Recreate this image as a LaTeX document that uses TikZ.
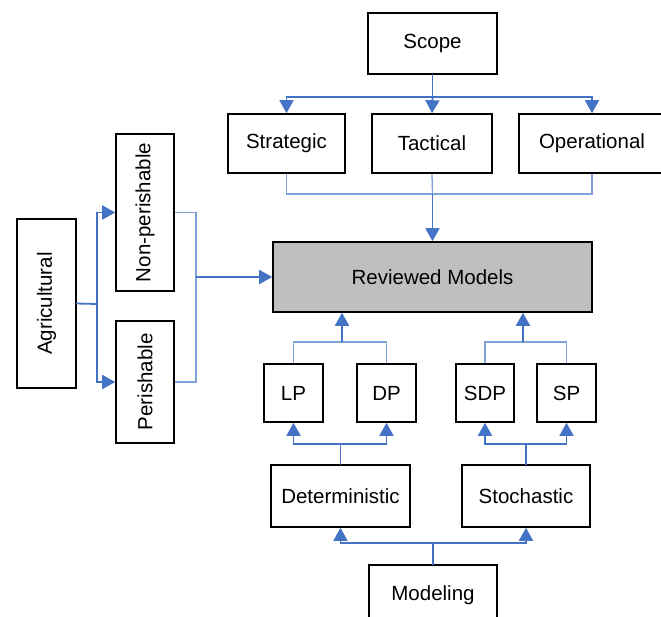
\documentclass[tikz,border=0pt]{standalone}
\usepackage{fontspec}
\setmainfont{Liberation Sans}
\usepackage{graphicx}
\usetikzlibrary{arrows.meta}
\definecolor{cblue}{HTML}{4472C4}
\definecolor{lblue}{HTML}{7FA2DA}
\definecolor{cgray}{HTML}{BFBFBF}
\begin{document}
\begin{tikzpicture}[x=1pt,y=-1pt,
  box/.style={draw=black, line width=1.6pt, fill=white, inner sep=0pt, font=\fontsize{20.5}{24}\selectfont},
  conn/.style={draw=cblue, line width=1.8pt, line cap=rect},
  arr/.style={conn, line cap=butt, -{Triangle[length=13pt,width=14pt]}},
  merge/.style={draw=lblue, line width=1.3pt}]
\useasboundingbox (0,0) rectangle (661,616);
% nodes
\node[box, minimum width=129, minimum height=61] (scope) at (432.5,43.5) {Scope};
\node[box, minimum width=117, minimum height=59] (strategic) at (286.5,143.5) {Strategic};
\node[box, minimum width=120, minimum height=59] (tactical) at (432,143.5) {Tactical};
\node[box, minimum width=146, minimum height=59] (operational) at (592,143.5) {Operational};
\node[box, fill=cgray, minimum width=319, minimum height=70] (reviewed) at (432.5,277) {Reviewed Models};
\node[box, minimum width=59, minimum height=169] (agri) at (46.5,303.5) {\rotatebox{90}{Agricultural}};
\node[box, minimum width=58, minimum height=157] (nonper) at (145,212.5) {\rotatebox{90}{Non-perishable}};
\node[box, minimum width=58, minimum height=122] (per) at (145,382) {\rotatebox{90}{Perishable}};
\node[box, minimum width=59, minimum height=58] (lp) at (293.5,393) {LP};
\node[box, minimum width=59, minimum height=58] (dp) at (386.5,393) {DP};
\node[box, minimum width=58, minimum height=58] (sdp) at (485,393) {SDP};
\node[box, minimum width=59, minimum height=58] (sp) at (566.5,393) {SP};
\node[box, minimum width=139, minimum height=62] (det) at (340.5,496) {Deterministic};
\node[box, minimum width=128, minimum height=62] (sto) at (526,496) {Stochastic};
\node[box, minimum width=128, minimum height=61] (modeling) at (433,595.5) {Modeling};
% scope
\coordinate (sb) at (scope.south |- 0,97);
\draw[conn] (scope.south) -- (sb);
\draw[arr] (sb) -| (strategic.north);
\draw[arr] (sb) -- (tactical.north);
\draw[arr] (sb) -| (operational.north);
\coordinate (mt) at (reviewed.north |- 0,194);
\draw[merge] (strategic.south) |- (mt);
\draw[merge] (operational.south) |- (mt);
\draw[merge] (tactical.south) -- (mt);
\draw[arr] (mt) -- (reviewed.north);
% agricultural
\coordinate (ab) at (97,304);
\draw[conn] (agri.east) -- (ab);
\draw[arr] (ab) |- (nonper.west);
\draw[arr] (ab) |- (per.west);
\coordinate (am) at (196,277);
\draw[merge] (nonper.east) -| (am);
\draw[merge] (per.east) -| (am);
\draw[arr] (am) -- (reviewed.west);
% LP/DP
\coordinate (dm) at (342,342);
\draw[merge] (lp.north) |- (dm);
\draw[merge] (dp.north) |- (dm);
\draw[arr] (dm) -- (dm |- reviewed.south);
\coordinate (sm) at (523,342);
\draw[merge] (sdp.north) |- (sm);
\draw[merge] (sp.north) |- (sm);
\draw[arr] (sm) -- (sm |- reviewed.south);
% deterministic / stochastic
\coordinate (db) at (det.north |- 0,444);
\draw[conn] (det.north) -- (db);
\draw[arr] (db) -| (lp.south);
\draw[arr] (db) -| (dp.south);
\coordinate (stb) at (sto.north |- 0,444);
\draw[conn] (sto.north) -- (stb);
\draw[arr] (stb) -| (sdp.south);
\draw[arr] (stb) -| (sp.south);
% modeling
\coordinate (mb) at (modeling.north |- 0,543);
\draw[conn] (modeling.north) -- (mb);
\draw[arr] (mb) -| (det.south);
\draw[arr] (mb) -| (sto.south);
\end{tikzpicture}
\end{document}
